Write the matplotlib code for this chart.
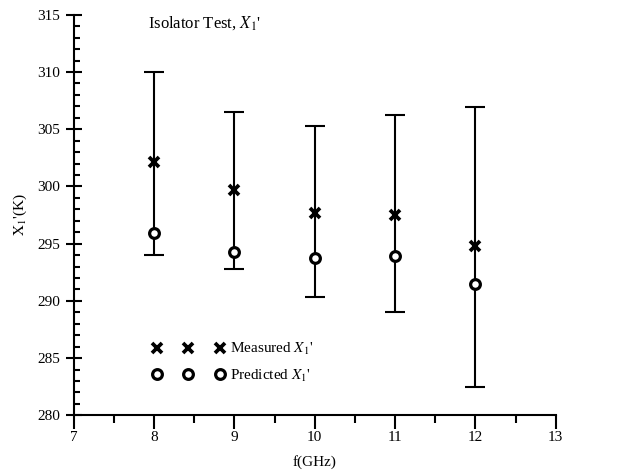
import matplotlib
matplotlib.use('Agg')
import matplotlib.pyplot as plt
from matplotlib.ticker import MultipleLocator

plt.rcParams['font.family'] = ['Liberation Serif', 'DejaVu Serif']
plt.rcParams['mathtext.fontset'] = 'stix'

# values
freq = [8, 9, 10, 11, 12]
measured = [302.1, 299.65, 297.7, 297.5, 294.8]
err_low = [294.0, 292.8, 290.3, 289.0, 282.5]
err_high = [310.0, 306.5, 305.3, 306.2, 306.9]
predicted = [295.9, 294.25, 293.7, 293.9, 291.5]

lower = [m - lo for m, lo in zip(measured, err_low)]
upper = [hi - m for m, hi in zip(measured, err_high)]

fig = plt.figure(figsize=(6.21, 4.75), dpi=100)
ax = fig.add_axes([0.1187, 0.1257, 0.7762, 0.8433])

ax.errorbar(freq, measured, yerr=[lower, upper], fmt='none', ecolor='black',
            elinewidth=1.5, capsize=7, capthick=1.5)
ax.plot(freq, measured, linestyle='none', marker='x', markersize=7.5,
        markeredgewidth=2.7, color='black', label="Measured $X_1$'")
ax.plot(freq, predicted, linestyle='none', marker='o', markersize=7,
        markeredgewidth=2.3, markerfacecolor='white', markeredgecolor='black',
        label="Predicted $X_1$'")

ax.set_xlim(7, 13)
ax.set_ylim(280, 315)
ax.xaxis.set_major_locator(MultipleLocator(1))
ax.xaxis.set_minor_locator(MultipleLocator(0.5))
ax.yaxis.set_major_locator(MultipleLocator(5))
ax.yaxis.set_minor_locator(MultipleLocator(1))

for s in ['top', 'right']:
    ax.spines[s].set_visible(False)
for s in ['left', 'bottom']:
    ax.spines[s].set_linewidth(1.5)

ax.tick_params(axis='x', which='major', direction='out', length=10, width=1.5,
               labelsize=11, pad=1)
ax.tick_params(axis='x', which='minor', direction='out', length=6, width=1.5)
ax.tick_params(axis='y', which='major', direction='inout', length=12, width=1.5,
               labelsize=11, pad=4)
ax.tick_params(axis='y', which='minor', direction='in', length=4, width=1.5)

ax.set_xlabel('f(GHz)', fontsize=11, labelpad=8)
ax.set_ylabel("$\\mathrm{X}_1$'(K)", fontsize=11, labelpad=6)

ax.text(7.92, 314.3, "Isolator Test, $X_1$'", fontsize=12, ha='left', va='center')

ax.legend(loc='lower left', bbox_to_anchor=(0.135, 0.045), numpoints=3,
          handlelength=4.7, handletextpad=0.4, frameon=False, fontsize=11,
          labelspacing=0.65)

fig.savefig('out.png', dpi=100)
